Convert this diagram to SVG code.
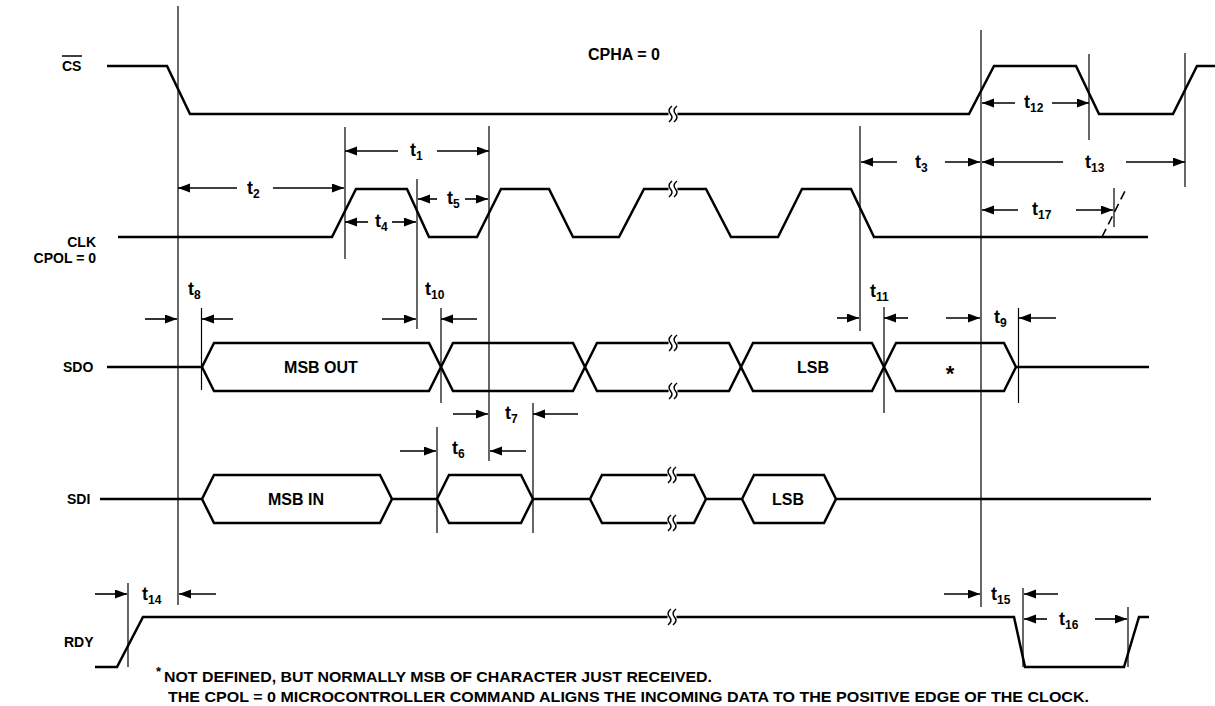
<svg xmlns="http://www.w3.org/2000/svg" xmlns:xlink="http://www.w3.org/1999/xlink" width="1215" height="706" viewBox="0 0 1215 706">
<style>
.w{fill:none;stroke:#000;stroke-width:2.5;stroke-linejoin:miter}
.v{stroke:#000;stroke-width:1.2;fill:none}
.a{stroke:#000;stroke-width:1.6;fill:none;marker-end:url(#ah)}
.d{stroke:#000;stroke-width:1.6;fill:none;stroke-dasharray:9,5}
text{font-family:"Liberation Sans",Arial,sans-serif;font-weight:bold;fill:#000}
.lb{font-size:14px}
.tl{font-size:18px}
.sb{font-size:12px}
.hx{font-size:16px;text-anchor:middle}
.fn{font-size:15px}
</style>
<defs>
<marker id="ah" markerUnits="userSpaceOnUse" markerWidth="12" markerHeight="10" refX="12" refY="4.5" orient="auto">
<path d="M0,0 L12,4.5 L0,9 Z" fill="#000"/>
</marker>
<g id="brk">
<rect x="-4.5" y="-3" width="9" height="6" fill="#fff"/>
<path d="M-1,-8 Q-6,-4 -2.5,0 Q1,4 -4,8 M4,-8 Q-1,-4 2.5,0 Q6,4 1,8" fill="none" stroke="#000" stroke-width="1.5"/>
</g>
</defs>
<rect width="1215" height="706" fill="#fff"/>

<g id="title"><text x="624" y="60" class="hx">CPHA = 0</text></g>

<g id="sig-cs">
<text x="62" y="71" class="lb">CS</text>
<line x1="62" y1="56" x2="82" y2="56" stroke="#000" stroke-width="1.5"/>
<path class="w" d="M107,66 H167 L190,114 H969 L994,66 H1076 L1099,114 H1173 L1197,66 H1215"/>
<use xlink:href="#brk" x="673" y="114"/>
</g>

<g id="sig-clk">
<text x="96" y="247" class="lb" text-anchor="end">CLK</text>
<text x="96" y="263" class="lb" text-anchor="end">CPOL = 0</text>
<path class="w" d="M118,237 H332 L356,189 H407 L429,237 H477 L501,189 H549 L573,237 H619 L644,189 H706 L731,237 H778 L802,189 H851 L874,237 H1148"/>
<use xlink:href="#brk" x="673" y="189"/>
<path class="d" d="M1102,237 L1126,189"/>
</g>

<g id="sig-sdo">
<text x="63" y="372" class="lb">SDO</text>
<path class="w" d="M107,367 H202 L214,343 H429 L453,391 H573 L597,343 H729 L753,391 H872 L896,343 H1004 L1016,367 H1149"/>
<path class="w" d="M202,367 L214,391 H429 L453,343 H573 L597,391 H729 L753,343 H872 L896,391 H1004 L1016,367"/>
<use xlink:href="#brk" x="673" y="343"/>
<use xlink:href="#brk" x="673" y="391"/>
<text x="321" y="373" class="hx">MSB OUT</text>
<text x="813" y="373" class="hx">LSB</text>
<text x="950" y="381" class="hx" style="font-size:22px">*</text>
</g>

<g id="sig-sdi">
<text x="67" y="504" class="lb">SDI</text>
<path class="w" d="M100,499 H202 L214,475 H380 L392,499 H437 L449,475 H521 L533,499 H590 L602,475 H694 L706,499 H742 L754,475 H824 L836,499 H1151"/>
<path class="w" d="M202,499 L214,523 H380 L392,499 M437,499 L449,523 H521 L533,499 M590,499 L602,523 H694 L706,499 M742,499 L754,523 H824 L836,499"/>
<use xlink:href="#brk" x="672" y="475"/>
<use xlink:href="#brk" x="672" y="523"/>
<text x="296" y="505" class="hx">MSB IN</text>
<text x="788" y="505" class="hx">LSB</text>
</g>

<g id="sig-rdy">
<text x="64" y="647" class="lb">RDY</text>
<path class="w" d="M95,667 H117 L143,617 H1014 L1025,667 H1124 L1139,617 H1149"/>
<use xlink:href="#brk" x="672" y="617"/>
</g>

<g id="connectors">
<line class="v" x1="178" y1="6" x2="178" y2="605"/>
<line class="v" x1="345" y1="127" x2="345" y2="259"/>
<line class="v" x1="489" y1="126" x2="489" y2="461"/>
<line class="v" x1="417" y1="179" x2="417" y2="329"/>
<line class="v" x1="860" y1="126" x2="860" y2="331" stroke="#444"/>
<line class="v" x1="981" y1="30" x2="981" y2="607"/>
<line class="v" x1="1089" y1="54" x2="1089" y2="140"/>
<line class="v" x1="1185" y1="53" x2="1185" y2="187"/>
<line class="v" x1="1114" y1="188" x2="1114" y2="227"/>
<line class="v" x1="201.5" y1="308" x2="201.5" y2="390"/>
<line class="v" x1="441" y1="308" x2="441" y2="403"/>
<line class="v" x1="884" y1="307" x2="884" y2="413"/>
<line class="v" x1="1018.5" y1="308" x2="1018.5" y2="403"/>
<line class="v" x1="437" y1="427" x2="437" y2="533"/>
<line class="v" x1="533" y1="403" x2="533" y2="533"/>
<line class="v" x1="128" y1="583" x2="128" y2="667"/>
<line class="v" x1="1023" y1="588" x2="1023" y2="667"/>
<line class="v" x1="1128" y1="607" x2="1128" y2="667"/>

<path class="a" d="M398,151 H345"/><path class="a" d="M437,151 H489"/>
<path class="a" d="M237,188 H178"/><path class="a" d="M273,188 H344"/>
<path class="a" d="M897,162 H861"/><path class="a" d="M945,162 H980"/>
<path class="a" d="M1063,162 H982"/><path class="a" d="M1126,162 H1185"/>
<path class="a" d="M368,222 H345"/><path class="a" d="M392,222 H416"/>
<path class="a" d="M437,199 H418"/><path class="a" d="M465,199 H488"/>
<path class="a" d="M1015,103 H982"/><path class="a" d="M1052,103 H1089"/>
<path class="a" d="M1018,210 H982"/><path class="a" d="M1076,210 H1113"/>
<path class="a" d="M145,319 H177"/><path class="a" d="M233,319 H202"/>
<path class="a" d="M382,319 H416"/><path class="a" d="M477,319 H441"/>
<path class="a" d="M837,318 H859"/><path class="a" d="M908,318 H884"/>
<path class="a" d="M946,318 H980"/><path class="a" d="M1056,318 H1019"/>
<path class="a" d="M453,414 H488"/><path class="a" d="M578,414 H533"/>
<path class="a" d="M400,451 H436"/><path class="a" d="M526,451 H490"/>
<path class="a" d="M95,594 H127"/><path class="a" d="M216,594 H179"/>
<path class="a" d="M944,594 H980"/><path class="a" d="M1058,594 H1024"/>
<path class="a" d="M1047,619 H1024"/><path class="a" d="M1095,619 H1127"/>
</g>

<g id="timing-labels">
<text x="410" y="156" class="tl">t<tspan class="sb" dy="4">1</tspan></text>
<text x="247" y="194" class="tl">t<tspan class="sb" dy="4">2</tspan></text>
<text x="915" y="168" class="tl">t<tspan class="sb" dy="4">3</tspan></text>
<text x="375" y="227" class="tl">t<tspan class="sb" dy="4">4</tspan></text>
<text x="447" y="204" class="tl">t<tspan class="sb" dy="4">5</tspan></text>
<text x="452" y="454" class="tl">t<tspan class="sb" dy="4">6</tspan></text>
<text x="505" y="419" class="tl">t<tspan class="sb" dy="4">7</tspan></text>
<text x="188" y="295" class="tl">t<tspan class="sb" dy="4">8</tspan></text>
<text x="994" y="323" class="tl">t<tspan class="sb" dy="4">9</tspan></text>
<text x="425" y="295" class="tl">t<tspan class="sb" dy="4">10</tspan></text>
<text x="870" y="297" class="tl">t<tspan class="sb" dy="4">11</tspan></text>
<text x="1024" y="108" class="tl">t<tspan class="sb" dy="4">12</tspan></text>
<text x="1085" y="168" class="tl">t<tspan class="sb" dy="4">13</tspan></text>
<text x="142" y="600" class="tl">t<tspan class="sb" dy="4">14</tspan></text>
<text x="991" y="600" class="tl">t<tspan class="sb" dy="4">15</tspan></text>
<text x="1059" y="625" class="tl">t<tspan class="sb" dy="4">16</tspan></text>
<text x="1032" y="215" class="tl">t<tspan class="sb" dy="4">17</tspan></text>
</g>

<g id="footnote">
<text x="156" y="676" style="font-size:13px">*</text>
<text x="164" y="682" class="fn" textLength="548" lengthAdjust="spacingAndGlyphs">NOT DEFINED, BUT NORMALLY MSB OF CHARACTER JUST RECEIVED.</text>
<text x="168" y="702" class="fn" textLength="921" lengthAdjust="spacingAndGlyphs">THE CPOL = 0 MICROCONTROLLER COMMAND ALIGNS THE INCOMING DATA TO THE POSITIVE EDGE OF THE CLOCK.</text>
</g>
</svg>
